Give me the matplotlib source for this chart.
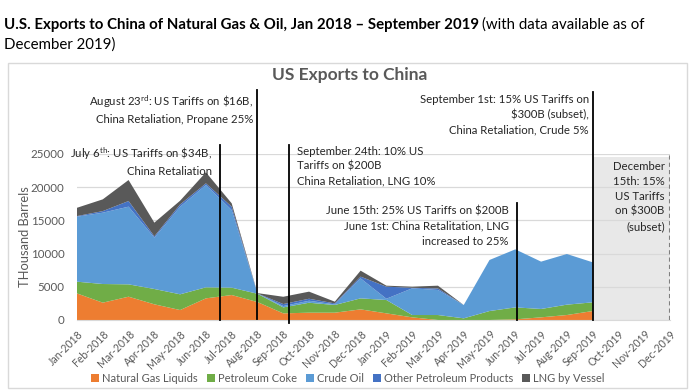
import numpy as np
import matplotlib
matplotlib.use("Agg")
import matplotlib.pyplot as plt
from matplotlib.patches import Rectangle

plt.rcParams['font.family'] = ['Lato', 'DejaVu Sans']
plt.rcParams['mathtext.fontset'] = 'custom'
plt.rcParams['mathtext.rm'] = 'Lato'
plt.rcParams['mathtext.it'] = 'Lato:italic'
plt.rcParams['mathtext.bf'] = 'Lato:bold'

# data (thousand barrels)
months = ["Jan-2018", "Feb-2018", "Mar-2018", "Apr-2018", "May-2018", "Jun-2018",
          "Jul-2018", "Aug-2018", "Sep-2018", "Oct-2018", "Nov-2018", "Dec-2018",
          "Jan-2019", "Feb-2019", "Mar-2019", "Apr-2019", "May-2019", "Jun-2019",
          "Jul-2019", "Aug-2019", "Sep-2019", "Oct-2019", "Nov-2019", "Dec-2019"]
ngl = [4000, 2610, 3510, 2360, 1500, 3260, 3760, 2700, 1000, 1100, 1100, 1600,
       1000, 400, 0, 0, 0, 100, 400, 750, 1350]
coke = [1770, 2810, 1860, 2310, 2370, 1660, 1110, 1250, 900, 1500, 1160, 1660,
        2010, 350, 750, 250, 1350, 1800, 1260, 1560, 1310]
crude = [9790, 10740, 11700, 7730, 13200, 15410, 11690, 50, 200, 300, 90, 3010,
         190, 4020, 3770, 2010, 7690, 8740, 7130, 7630, 6030]
other = [90, 240, 850, 200, 330, 250, 510, 0, 300, 300, 150, 260,
         1820, 80, 230, 0, 0, 0, 0, 0, 0]
lng = [1250, 1770, 3160, 2060, 570, 1660, 500, 50, 1100, 1070, 260, 900,
       150, 170, 420, 0, 0, 0, 0, 0, 0]
labels = ["Natural Gas Liquids", "Petroleum Coke", "Crude Oil",
          "Other Petroleum Products", "LNG by Vessel"]
colors = ["#ED7D31", "#70AD47", "#5B9BD5", "#4472C4", "#595959"]

W, H = 695, 392
fig = plt.figure(figsize=(6.95, 3.92), dpi=100)

def fx(px):
    return px / W

def fy(py):
    return 1 - py / H

# chart border
fig.patches.append(Rectangle((fx(8), fy(388)), fx(687) - fx(8), fy(63) - fy(388),
                             transform=fig.transFigure, fill=False,
                             edgecolor="#D9D9D9", lw=1))

ax = fig.add_axes([fx(77), fy(320), fx(670) - fx(77), fy(154) - fy(320)])
x = np.arange(len(ngl))
ax.stackplot(x, ngl, coke, crude, other, lng, colors=colors, labels=labels, lw=0)

ax.set_xlim(0, 23)
ax.set_ylim(0, 25000)
ax.set_yticks(range(0, 25001, 5000))
ax.grid(axis='y', color="#D9D9D9", lw=0.9)
ax.set_axisbelow(True)
for s in ["top", "right", "left"]:
    ax.spines[s].set_visible(False)
ax.spines["bottom"].set_color("#D9D9D9")
ax.tick_params(axis='both', length=0, colors="#595959", labelsize=8.3)
ax.set_xticks(range(len(months)))
ax.set_xticklabels(months, rotation=45, ha='right', rotation_mode='anchor', fontsize=7.6)
ax.tick_params(axis='x', pad=6)
ax.tick_params(axis='y', pad=9)
ax.set_ylabel("THousand Barrels", color="#595959", fontsize=9.3, labelpad=0)

# shaded future region
ax.axvspan(20, 23, ymin=0, ymax=24500 / 25000, color="#E8E8E8", zorder=0.5, lw=0)
ax.plot([23, 23], [0, 24800], color="#7F7F7F", ls=(0, (2, 1.5)), lw=1.5)

# event lines
ev_x = [5.54, 7.0, 8.22, 17.05, 20.0]
ev_top = [26350, 34640, 26350, 17620, 34340]
ev_bot = [0, 200, -450, 0, 0]
for xi, yt, yb in zip(ev_x, ev_top, ev_bot):
    ax.plot([xi, xi], [yb, yt], color="black", lw=1.3, clip_on=False, zorder=5)

fs = 8.2
ls = 1.45
tc = "#262626"
ax.text(7.0 - 0.15, 34100, "August 23$^{\\mathrm{rd}}$: US Tariffs on \\$16B,\nChina Retaliation, Propane 25%",
        ha='right', va='top', fontsize=fs, color=tc, linespacing=ls, clip_on=False)
ax.text(5.54 - 0.3, 26250, "July 6$^{\\mathrm{th}}$: US Tariffs on \\$34B,\nChina Retaliation",
        ha='right', va='top', fontsize=fs, color=tc, linespacing=ls, clip_on=False)
ax.text(8.22 + 0.3, 26250, "September 24th: 10% US\nTariffs on $200B\nChina Retaliation, LNG 10%",
        ha='left', va='top', fontsize=fs, color=tc, linespacing=ls, clip_on=False)
ax.text(20.0 - 0.15, 34100, "September 1st: 15% US Tariffs on\n$300B (subset),\nChina Retaliation, Crude 5%",
        ha='right', va='top', fontsize=fs, color=tc, linespacing=ls, multialignment='right', clip_on=False)
ax.text(17.05 - 0.3, 17200, "June 15th: 25% US Tariffs on $200B\nJune 1st: China Retalitation, LNG\nincreased to 25%",
        ha='right', va='top', fontsize=fs, color=tc, linespacing=ls, multialignment='right', clip_on=False)
ax.text(22.8, 24000, "December\n15th: 15%\nUS Tariffs\non $300B\n(subset)",
        ha='right', va='top', fontsize=fs, color=tc, linespacing=ls, multialignment='right', clip_on=False)

# chart title
fig.text(fx(350), fy(75), "US Exports to China", ha='center', va='center',
         fontsize=12.5, fontweight='bold', color="#595959")

# legend
handles, labs = ax.get_legend_handles_labels()
fig.legend(handles, labs, loc='center', bbox_to_anchor=(fx(348), fy(378)), ncol=5,
           frameon=False, fontsize=8, handlelength=0.7, handleheight=0.7,
           handletextpad=0.3, columnspacing=0.8, labelcolor="#595959")

# page heading
t1 = fig.text(fx(4), fy(25), "U.S. Exports to China of Natural Gas & Oil, Jan 2018 \u2013 September 2019",
              ha='left', va='center', fontsize=10.8, fontweight='bold', color="black")
fig.canvas.draw()
bb = t1.get_window_extent()
fig.text(bb.x1 / fig.bbox.width + fx(3), fy(25), "(with data available as of",
         ha='left', va='center', fontsize=10.8, color="black")
fig.text(fx(4), fy(45), "December 2019)", ha='left', va='center', fontsize=10.8, color="black")

fig.savefig("out.png", dpi=100)
